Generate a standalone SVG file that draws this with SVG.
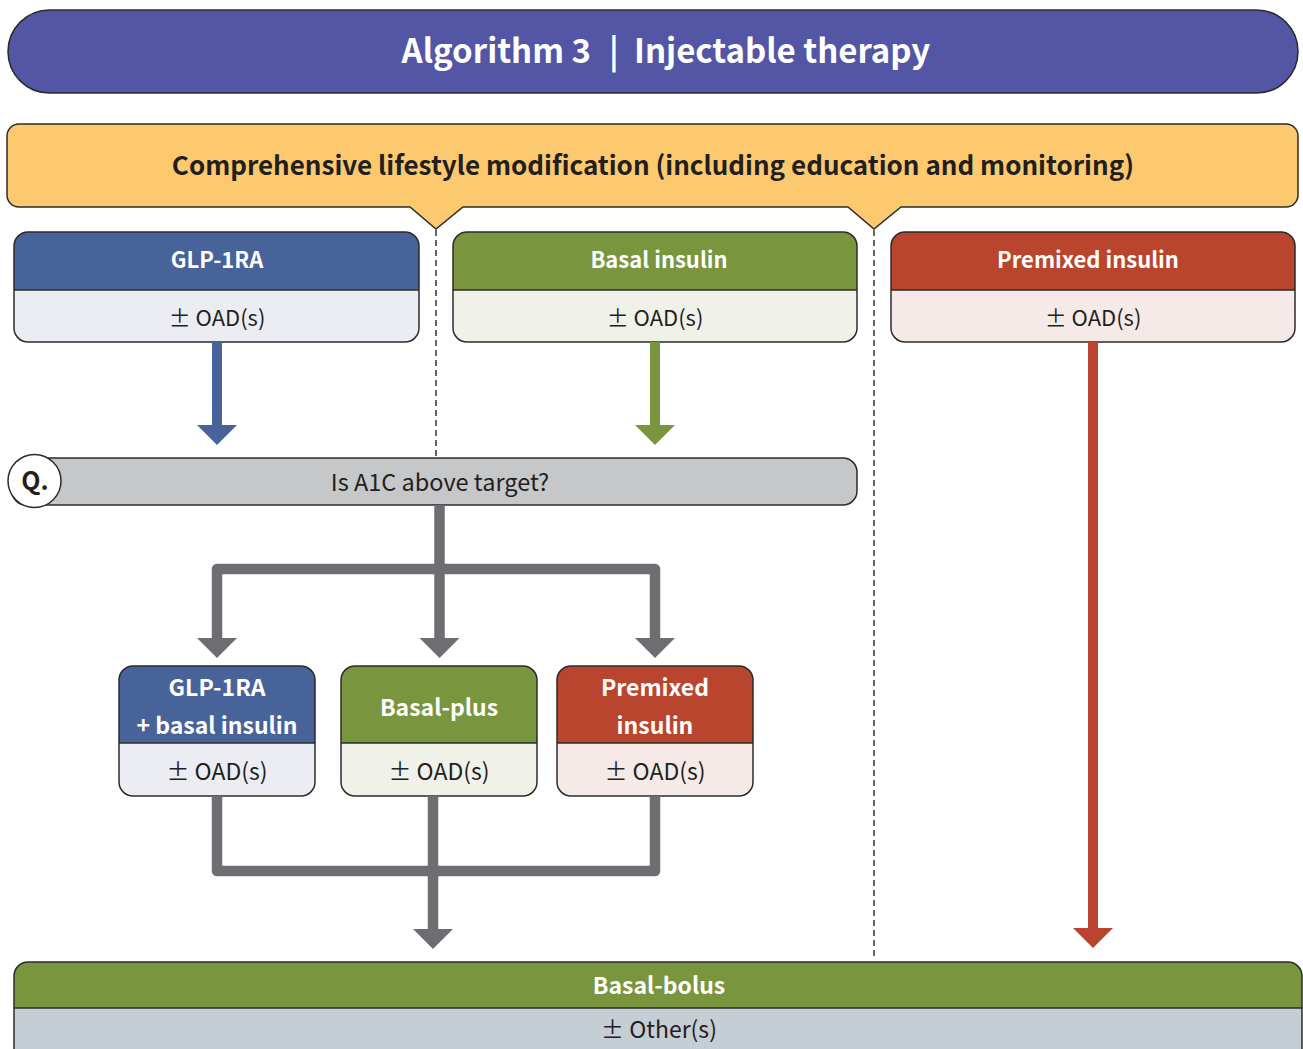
<svg xmlns="http://www.w3.org/2000/svg" width="1303" height="1049" viewBox="0 0 1303 1049">
<style>
text{font-family:"Noto Sans CJK KR","Source Sans Pro","Noto Sans",sans-serif;}
.hd{fill:#fff;font-weight:bold;font-size:23px;text-anchor:middle;}
.ft{fill:#231f20;font-size:23px;text-anchor:middle;}
.s22{font-size:22px;}
.ol{fill:none;stroke:#2b2b2b;stroke-width:1.5;}
.sep{stroke:#2b2b2b;stroke-width:1.5;}
.gray{fill:none;stroke:#6d6e72;stroke-width:10.5;stroke-linejoin:round;}
.dash{stroke:#333;stroke-width:1.5;stroke-dasharray:6 4;fill:none;}
</style>
<rect width="1303" height="1049" fill="#fff"/>
<g id="title">
<rect x="8" y="10" width="1290" height="83" rx="41.5" fill="#5256a5" stroke="#2b2b2b" stroke-width="1.5"/>
<text y="63" fill="#fff" font-weight="bold" font-size="33px"><tspan x="591" text-anchor="end">Algorithm 3</tspan><tspan x="614" text-anchor="middle">|</tspan><tspan x="634" text-anchor="start">Injectable therapy</tspan></text>
</g>
<g id="lifestyle">
<path d="M19,124 H1286 A12,12 0 0 1 1298,136 V195 A12,12 0 0 1 1286,207 H901 L874,229 L848,207 H463 L436,229 L410,207 H19 A12,12 0 0 1 7,195 V136 A12,12 0 0 1 19,124 Z" fill="#fdc96f" stroke="#2b2b2b" stroke-width="1.5"/>
<text x="653" y="175" fill="#231f20" font-weight="bold" font-size="26px" text-anchor="middle">Comprehensive lifestyle modification (including education and monitoring)</text>
</g>
<g id="dividers">
<line class="dash" x1="436" y1="230" x2="436" y2="457"/>
<line class="dash" x1="874" y1="230" x2="874" y2="956"/>
</g>
<g id="glp1ra">
<rect x="14" y="232" width="405" height="110" rx="14" fill="#ecedf3"/>
<path d="M14,290 V246 A14,14 0 0 1 28,232 H405 A14,14 0 0 1 419,246 V290 Z" fill="#48629a"/>
<rect class="ol" x="14" y="232" width="405" height="110" rx="14"/>
<line class="sep" x1="14" y1="290" x2="419" y2="290"/>
<text class="hd s22" x="217" y="268">GLP-1RA</text>
<text class="ft s22" x="217" y="326">± OAD(s)</text>
</g>
<g id="basal">
<rect x="453" y="232" width="404" height="110" rx="14" fill="#f0f2ea"/>
<path d="M453,290 V246 A14,14 0 0 1 467,232 H843 A14,14 0 0 1 857,246 V290 Z" fill="#79953e"/>
<rect class="ol" x="453" y="232" width="404" height="110" rx="14"/>
<line class="sep" x1="453" y1="290" x2="857" y2="290"/>
<text class="hd s22" x="659" y="268">Basal insulin</text>
<text class="ft s22" x="655" y="326">± OAD(s)</text>
</g>
<g id="premixed">
<rect x="891" y="232" width="404" height="110" rx="14" fill="#f6eae8"/>
<path d="M891,290 V246 A14,14 0 0 1 905,232 H1281 A14,14 0 0 1 1295,246 V290 Z" fill="#b9452e"/>
<rect class="ol" x="891" y="232" width="404" height="110" rx="14"/>
<line class="sep" x1="891" y1="290" x2="1295" y2="290"/>
<text class="hd s22" x="1088" y="268">Premixed insulin</text>
<text class="ft s22" x="1093" y="326">± OAD(s)</text>
</g>
<g id="question">
<rect x="12" y="458" width="845" height="47" rx="14" fill="#c6c7c9" stroke="#2b2b2b" stroke-width="1.5"/>
<circle cx="34.5" cy="481" r="26.5" fill="#fff" stroke="#2b2b2b" stroke-width="1.5"/>
<text x="35" y="490" fill="#231f20" font-weight="bold" font-size="25px" text-anchor="middle">Q.</text>
<text x="440" y="491" fill="#231f20" font-size="23.5px" text-anchor="middle">Is A1C above target?</text>
</g>
<g id="glp1ra-basal">
<rect x="119" y="666" width="196" height="130" rx="14" fill="#ecedf3"/>
<path d="M119,743 V680 A14,14 0 0 1 133,666 H301 A14,14 0 0 1 315,680 V743 Z" fill="#48629a"/>
<rect class="ol" x="119" y="666" width="196" height="130" rx="14"/>
<line class="sep" x1="119" y1="743" x2="315" y2="743"/>
<text class="hd" x="217" y="696">GLP-1RA</text>
<text class="hd" x="217" y="734">+ basal insulin</text>
<text class="ft" x="217" y="780">± OAD(s)</text>
</g>
<g id="basal-plus">
<rect x="341" y="666" width="196" height="130" rx="14" fill="#f0f2ea"/>
<path d="M341,743 V680 A14,14 0 0 1 355,666 H523 A14,14 0 0 1 537,680 V743 Z" fill="#79953e"/>
<rect class="ol" x="341" y="666" width="196" height="130" rx="14"/>
<line class="sep" x1="341" y1="743" x2="537" y2="743"/>
<text class="hd" x="439" y="716">Basal-plus</text>
<text class="ft" x="439" y="780">± OAD(s)</text>
</g>
<g id="premixed-2">
<rect x="557" y="666" width="196" height="130" rx="14" fill="#f6eae8"/>
<path d="M557,743 V680 A14,14 0 0 1 571,666 H739 A14,14 0 0 1 753,680 V743 Z" fill="#b9452e"/>
<rect class="ol" x="557" y="666" width="196" height="130" rx="14"/>
<line class="sep" x1="557" y1="743" x2="753" y2="743"/>
<text class="hd" x="655" y="696">Premixed</text>
<text class="hd" x="655" y="734">insulin</text>
<text class="ft" x="655" y="780">± OAD(s)</text>
</g>
<g id="basal-bolus">
<rect x="14" y="962" width="1288" height="110" rx="14" fill="#c5cdd5"/>
<path d="M14,1008 V976 A14,14 0 0 1 28,962 H1288 A14,14 0 0 1 1302,976 V1008 Z" fill="#79953e"/>
<rect class="ol" x="14" y="962" width="1288" height="110" rx="14"/>
<line class="sep" x1="14" y1="1008" x2="1302" y2="1008"/>
<text class="hd" x="659" y="994">Basal-bolus</text>
<text class="ft" x="659" y="1038">± Other(s)</text>
</g>
<g id="connectors">
<line x1="217" y1="342" x2="217" y2="426" stroke="#48629a" stroke-width="10"/>
<polygon points="197,425 237,425 217,445" fill="#48629a"/>
<line x1="655" y1="342" x2="655" y2="426" stroke="#79953e" stroke-width="10"/>
<polygon points="635,425 675,425 655,445" fill="#79953e"/>
<line x1="1093" y1="342" x2="1093" y2="929" stroke="#b9452e" stroke-width="10"/>
<polygon points="1073,928 1113,928 1093,948" fill="#b9452e"/>
<path class="gray" d="M439.5,505 V640"/>
<path class="gray" d="M217,640 V569 H655 V640"/>
<polygon points="197,638 237,638 217,658" fill="#6d6e72"/>
<polygon points="419.5,638 459.5,638 439.5,658" fill="#6d6e72"/>
<polygon points="635,638 675,638 655,658" fill="#6d6e72"/>
<path class="gray" d="M217,796 V871 H655 V796"/>
<path class="gray" d="M433,796 V930"/>
<polygon points="413,929 453,929 433,949" fill="#6d6e72"/>
</g>
</svg>
